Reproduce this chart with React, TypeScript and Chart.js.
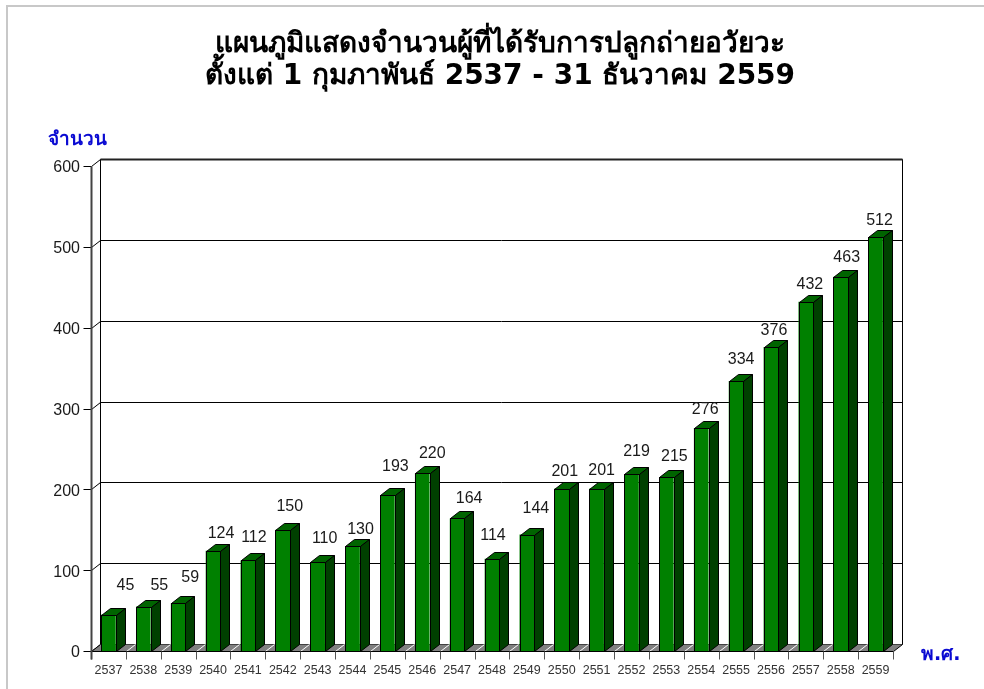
import React, { useEffect, useRef } from "react";
import { Chart, registerables } from "chart.js";

Chart.register(...registerables);

const years = ["2537","2538","2539","2540","2541","2542","2543","2544","2545","2546","2547","2548","2549","2550","2551","2552","2553","2554","2555","2556","2557","2558","2559"];
const patients = [45,55,59,124,112,150,110,130,193,220,164,114,144,201,201,219,215,276,334,376,432,463,512];
const titleLines = ["แผนภูมิแสดงจำนวนผู้ที่ได้รับการปลูกถ่ายอวัยวะ", "ตั้งแต่ 1 กุมภาพันธ์ 2537 - 31 ธันวาคม 2559"];
const yAxisName = "จำนวน";
const xAxisName = "พ.ศ.";

// value-label placement as drawn in the original (hand-positioned there)
const labelLift = [24,16,20,12,17,18,18,11,23,14,14,18,21,12,13,17,15,13,16,11,12,14,11];
const labelNudge = [17,16,12,8,6,7,7,8,8,10,12,1,9,3,5,5,8,4,5,3,4,6,4];

const DX = 9, DY = -7;
const THAI = "'DejaVu Sans', Tahoma, 'Noto Sans', sans-serif";
const ARIAL = "'Liberation Sans', Arial, sans-serif";

const scene = {
  id: "scene",
  beforeDraw(c: any) {
    const { ctx, chartArea: a, scales } = c;
    const L = Math.round(a.left) + 0.5, R = Math.round(a.right) + 0.5;
    const T = Math.round(a.top) + 0.5, B = Math.round(a.bottom) + 0.5;
    ctx.save();
    ctx.strokeStyle = "#c8c8c8"; ctx.lineWidth = 2;
    ctx.beginPath(); ctx.moveTo(7, 689); ctx.lineTo(7, 6); ctx.lineTo(984, 6); ctx.stroke();
    // grid on the back wall with its side-wall return and outer tick
    ctx.strokeStyle = "#000"; ctx.lineWidth = 1;
    scales.y.ticks.forEach((t: any) => {
      const y = Math.round(scales.y.getPixelForValue(t.value)) + 0.5;
      ctx.beginPath();
      ctx.moveTo(L - 8, y); ctx.lineTo(L, y);
      ctx.lineTo(L + DX, y + DY); ctx.lineTo(R + DX, y + DY);
      ctx.stroke();
    });
    // back wall edges
    ctx.beginPath(); ctx.moveTo(L + DX, T + DY); ctx.lineTo(L + DX, B + DY); ctx.stroke();
    ctx.beginPath(); ctx.moveTo(R + DX, T + DY); ctx.lineTo(R + DX, B + DY); ctx.stroke();
    ctx.strokeStyle = "#222"; ctx.lineWidth = 2;
    ctx.beginPath(); ctx.moveTo(L + DX, T + DY); ctx.lineTo(R + DX, T + DY); ctx.stroke();
    // floor
    ctx.fillStyle = "#808080";
    ctx.beginPath(); ctx.moveTo(L, B); ctx.lineTo(R, B); ctx.lineTo(R + DX, B + DY); ctx.lineTo(L + DX, B + DY); ctx.closePath(); ctx.fill();
    ctx.lineWidth = 1;
    years.forEach((_, i) => {
      const x = Math.round(a.left + (a.width * i) / years.length) + 0.5;
      if (i > 0) {
        ctx.strokeStyle = "#fff";
        ctx.beginPath(); ctx.moveTo(x, B); ctx.lineTo(x + DX, B + DY); ctx.stroke();
      }
    });
    // floor outline and front ticks
    ctx.strokeStyle = "#000";
    ctx.beginPath(); ctx.moveTo(L, B); ctx.lineTo(R, B); ctx.lineTo(R + DX, B + DY); ctx.stroke();
    ctx.beginPath(); ctx.moveTo(L, B); ctx.lineTo(L + DX, B + DY); ctx.stroke();
    ctx.strokeStyle = "#555";
    for (let i = 0; i <= years.length; i++) {
      const x = Math.round(a.left + (a.width * i) / years.length) + 0.5;
      ctx.beginPath(); ctx.moveTo(x, B); ctx.lineTo(x, B + 8); ctx.stroke();
    }
    // front left axis
    ctx.strokeStyle = "#444"; ctx.lineWidth = 2;
    ctx.beginPath(); ctx.moveTo(L, T); ctx.lineTo(L, B + 8); ctx.stroke();
    ctx.restore();
  },
  afterDatasetsDraw(c: any) {
    const { ctx } = c;
    ctx.save();
    ctx.strokeStyle = "#000"; ctx.lineWidth = 1;
    c.getDatasetMeta(0).data.forEach((b: any, i: number) => {
      const l = Math.round(b.x - b.width / 2) + 0.5, r = Math.round(b.x + b.width / 2) + 0.5;
      const t = Math.round(b.y) + 0.5, bo = Math.round(b.base) + 0.5;
      ctx.strokeRect(l, t, r - l, bo - t);
      ctx.fillStyle = "#006400";
      ctx.beginPath(); ctx.moveTo(l, t); ctx.lineTo(l + DX, t + DY); ctx.lineTo(r + DX, t + DY); ctx.lineTo(r, t); ctx.closePath(); ctx.fill(); ctx.stroke();
      ctx.fillStyle = "#004000";
      ctx.beginPath(); ctx.moveTo(r, t); ctx.lineTo(r + DX, t + DY); ctx.lineTo(r + DX, bo + DY); ctx.lineTo(r, bo); ctx.closePath(); ctx.fill(); ctx.stroke();
      ctx.fillStyle = "#1a1a1a"; ctx.font = `16px ${ARIAL}`; ctx.textAlign = "center"; ctx.textBaseline = "middle";
      ctx.fillText(String(patients[i]), b.x + labelNudge[i], t - 6 - labelLift[i]);
    });
    ctx.font = `bold 19px ${THAI}`; ctx.fillStyle = "#0a0ad2"; ctx.textAlign = "left";
    ctx.fillText(yAxisName, 48, 140);
    ctx.fillText(xAxisName, 921, 655);
    ctx.restore();
  },
};

export default function App() {
  const ref = useRef<HTMLCanvasElement>(null);
  useEffect(() => {
    document.body.style.margin = "0";
    document.body.style.background = "#fff";
    const chart = new Chart(ref.current!, {
      type: "bar",
      data: { labels: years, datasets: [{ data: patients, yAxisID: "y", backgroundColor: "#008000", borderWidth: 0, categoryPercentage: 0.42, barPercentage: 1 }] },
      plugins: [scene],
      options: {
        animation: false, responsive: false,
        layout: { padding: { top: 0, left: 16, right: 0, bottom: 0 } },
        plugins: {
          legend: { display: false }, tooltip: { enabled: false },
          title: { display: true, text: titleLines, color: "#000", font: { family: THAI, size: 28, weight: "bold", lineHeight: 32 / 28 }, padding: { top: 29, bottom: 73 } },
        },
        scales: {
          x: { grid: { display: false }, border: { display: false }, ticks: { color: "#333", font: { family: ARIAL, size: 12.5 }, maxRotation: 0, autoSkip: false, padding: 4 }, afterFit: (s: any) => { s.height = 38; } },
          y: { min: 0, max: 600, grid: { display: false }, border: { display: false }, ticks: { stepSize: 100, color: "#1a1a1a", font: { family: ARIAL, size: 16 }, padding: 3, labelOffset: 2 }, afterFit: (s: any) => { s.width = 75; } },
          spare: { position: "right", min: 0, max: 600, grid: { display: false }, border: { display: false }, ticks: { display: false }, afterFit: (s: any) => { s.width = 91; } },
        },
      } as any,
    });
    return () => chart.destroy();
  }, []);
  return <canvas ref={ref} width={984} height={689} style={{ display: "block" }} />;
}
